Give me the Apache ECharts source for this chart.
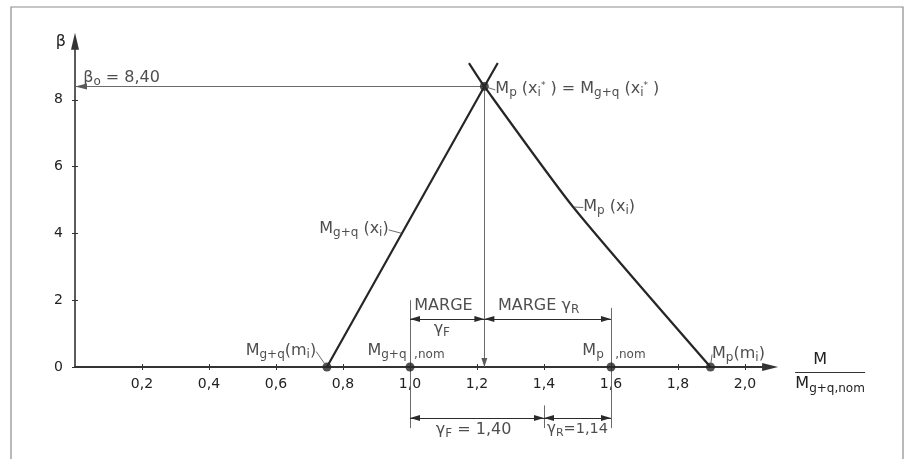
<!DOCTYPE html>
<html><head><meta charset="utf-8">
<script src="https://cdn.jsdelivr.net/npm/echarts@6/dist/echarts.min.js"></script>
<style>html,body{margin:0;padding:0;background:#fff}#c{width:906px;height:459px}</style>
</head><body><div id="c"></div>
<script>
// ---------- data ----------
const xTicks = [0.2, 0.4, 0.6, 0.8, 1.0, 1.2, 1.4, 1.6, 1.8, 2.0];
const yTicks = [0, 2, 4, 6, 8];
// M_g+q(x_i) line (beta vs M/M_g+q,nom)
const gqX = [0.752, 1.222, 1.262];
const gqY = [0, 8.40, 9.10];
// M_p(x_i) curve
const pX = [1.176, 1.222, 1.487, 1.897];
const pY = [9.10, 8.40, 4.79, 0];
// marked points
const pointX = [0.752, 1.0, 1.6, 1.897, 1.222];
const pointY = [0, 0, 0, 0, 8.40];
const pointLabels = [
  '{m|M}{s|g+q}{m|(m}{s|i}{m|)}',
  '{m|M}{s|g+q  ,nom}',
  '{m|M}{s|p   ,nom}',
  '{m|M}{s|p}{m|(m}{s|i}{m|)}',
  '{m|M}{s|p}{m| (x}{s|i}{p|*}{m| ) = M}{s|g+q}{m| (x}{s|i}{p|*}{m| )}'
];
// curve labels (anchor on the curves)
const lineLabelX = [0.976, 1.487];
const lineLabelY = [4.0, 4.79];
const lineLabels = ['{m|M}{s|g+q}{m| (x}{s|i}{m|)}', '{m|M}{s|p}{m| (x}{s|i}{m|)}'];
// key values
const beta0 = 8.40;
const peakX = 1.222;
const nomGQ = 1.0, nomP = 1.6, splitX = 1.4;
const margeY = 1.44, gammaY = -1.53;
// text annotations
const annText = ['{t|MARGE}', '{g|γ}{gs|F}', '{t|MARGE }{g|γ}{gs|R}', '{g|γ}{gs|F}{t| = 1,40}', '{g2|γ}{gs2|R}{t2|=1,14}', '{t|β}{gs|o}{t| = 8,40}'];
const annX = [1.10, 1.095, 1.384, 1.19, 1.50, 0.139];
const annY = [1.80, 1.11, 1.80, -1.92, -1.92, 8.62];

// ---------- styles ----------
const LINE = '#262626', THIN = '#5a5a5a', TXT = '#222';
const FONT = '"DejaVu Sans", sans-serif';
const pointLabelOffsets = [[-46, -15], [-4, -15], [3, -15], [28, -12], [93, 4]];
const lineLabelOffsets = [[-48, -3], [36, 1]];
const R = {
  m: {fontSize: 16, lineHeight: 19, verticalAlign: 'top', color: TXT, fontFamily: FONT},
  s: {fontSize: 12, lineHeight: 13, padding: [6, 0, 0, 0], verticalAlign: 'top', color: TXT, fontFamily: FONT},
  p: {fontSize: 9, lineHeight: 10, verticalAlign: 'top', color: TXT, fontFamily: FONT},
  t: {fontSize: 16, lineHeight: 19, verticalAlign: 'top', color: TXT, fontFamily: FONT},
  g: {fontSize: 16, lineHeight: 19, verticalAlign: 'top', color: TXT, fontFamily: FONT},
  gs: {fontSize: 12, lineHeight: 13, padding: [6, 0, 0, 0], verticalAlign: 'top', color: TXT, fontFamily: FONT},
  t2: {fontSize: 14.5, lineHeight: 19, verticalAlign: 'top', color: TXT, fontFamily: FONT},
  g2: {fontSize: 15, lineHeight: 19, verticalAlign: 'top', color: TXT, fontFamily: FONT},
  gs2: {fontSize: 11, lineHeight: 13, padding: [6, 0, 0, 0], verticalAlign: 'top', color: TXT, fontFamily: FONT}
};
const ARW = 'path://M0,0L0,0Z M0,10L3,20L-3,20Z';
const thin = {color: THIN, width: 0.9, type: 'solid'};
const dim = {color: '#2a2a2a', width: 1, type: 'solid'};
function seg(x1, y1, x2, y2, s1, s2, ls, size) {
  return [{coord: [x1, y1], symbol: s1, symbolSize: size || 1, lineStyle: ls},
          {coord: [x2, y2], symbol: s2, symbolSize: size || 1, lineStyle: ls}];
}
const fmt = v => v.toFixed(1).replace('.', ',');
const AX = '#333';

const chart = echarts.init(document.getElementById('c'));
const option = {
  animation: false,
  backgroundColor: '#ffffff',
  graphic: [{type: 'rect', shape: {x: 11, y: 7, width: 892, height: 470}, style: {fill: 'none', stroke: '#8c8c8c', lineWidth: 1.2}, z: -10, silent: true}],
  grid: [
    {left: 75, right: 135.9, top: 41.35, bottom: 92, containLabel: false, outerBoundsMode: 'none'},
    {left: 75, right: 135.9, top: 41.35, bottom: 8.5, containLabel: false, outerBoundsMode: 'none'}
  ],
  xAxis: [{
    gridIndex: 0, type: 'value', min: 0, max: 2.075, position: 'bottom',
    name: '{n|M}\n{bar| }\n{d|M}{ds|g+q,nom}', nameLocation: 'end', nameGap: 60, nameMoveOverlap: false,
    nameTextStyle: {align: 'center', verticalAlign: 'middle', padding: [6, 0, 0, 0], rich: {
      n: {fontSize: 16, lineHeight: 24, color: TXT, fontFamily: FONT, align: 'center', padding: [0, 20, 0, 0]},
      bar: {width: 70, height: 1.2, lineHeight: 1.2, fontSize: 1, backgroundColor: '#333', align: 'center'},
      d: {fontSize: 16, lineHeight: 19, padding: [3, 0, 0, 0], verticalAlign: 'top', color: TXT, fontFamily: FONT, align: 'center'},
      ds: {fontSize: 12, lineHeight: 13, padding: [10, 0, 0, 0], verticalAlign: 'top', color: TXT, fontFamily: FONT, align: 'center'}
    }},
    axisLine: {show: true, onZero: false, symbol: ['none', 'triangle'], symbolSize: [8, 16], lineStyle: {color: AX, width: 1.8}},
    axisTick: {show: true, length: 3, customValues: xTicks, lineStyle: {color: AX, width: 1}},
    axisLabel: {show: true, customValues: xTicks, formatter: fmt, margin: 10, fontSize: 14, color: TXT, fontFamily: FONT},
    splitLine: {show: false}
  }, {
    gridIndex: 0, type: 'value', min: 0, max: 2.075, position: 'bottom',
    axisLine: {show: false, onZero: false},
    axisTick: {show: true, inside: true, length: 3, customValues: xTicks, lineStyle: {color: AX, width: 1}},
    axisLabel: {show: false}, splitLine: {show: false}
  }, {
    gridIndex: 1, type: 'value', min: 0, max: 2.075, show: false
  }],
  yAxis: [{
    gridIndex: 0, type: 'value', min: 0, max: 9.75, position: 'left',
    name: 'β', nameLocation: 'end', nameGap: 0, nameMoveOverlap: false,
    nameTextStyle: {align: 'right', verticalAlign: 'middle', padding: [0, 9, 0, 0], fontSize: 16, color: TXT, fontFamily: FONT},
    axisLine: {show: true, onZero: false, symbol: ['none', 'triangle'], symbolSize: [8, 17], lineStyle: {color: AX, width: 1.6}},
    axisTick: {show: true, length: 3, customValues: yTicks, lineStyle: {color: AX, width: 1}},
    axisLabel: {show: true, customValues: yTicks, margin: 12, fontSize: 14, color: TXT, fontFamily: FONT},
    splitLine: {show: false}
  }, {
    gridIndex: 0, type: 'value', min: 0, max: 9.75, position: 'left',
    axisLine: {show: false, onZero: false},
    axisTick: {show: true, inside: true, length: 3, customValues: yTicks, lineStyle: {color: AX, width: 1}},
    axisLabel: {show: false}, splitLine: {show: false}
  }, {
    gridIndex: 1, type: 'value', min: -2.5, max: 9.75, show: false
  }],
  series: [
    {type: 'line', name: 'Mgq', data: gqX.map((x, i) => [x, gqY[i]]), symbol: 'none', clip: false,
     lineStyle: {color: LINE, width: 2.2}, z: 3},
    {type: 'line', name: 'Mp', data: pX.map((x, i) => [x, pY[i]]), symbol: 'none', clip: false,
     smooth: 0.2,
     lineStyle: {color: LINE, width: 2.2}, z: 3},
    {type: 'scatter', name: 'points', clip: false, z: 5,
     data: pointX.map((x, i) => ({value: [x, pointY[i]], labelLine: {show: !(i === 1 || i === 2)}})),
     symbolSize: 9, itemStyle: {color: '#262626'},
     label: {show: true, position: 'inside', color: TXT, formatter: p => pointLabels[p.dataIndex], rich: R},
     labelLayout: p => ({dx: pointLabelOffsets[p.dataIndex][0], dy: pointLabelOffsets[p.dataIndex][1]}),
     labelLine: {show: true, lineStyle: {color: '#444', width: 0.8}}
    },
    {type: 'scatter', name: 'curveLabels', clip: false, z: 4,
     data: lineLabelX.map((x, i) => [x, lineLabelY[i]]), symbolSize: 1, itemStyle: {color: 'rgba(0,0,0,0)'},
     label: {show: true, position: 'inside', color: TXT, formatter: p => lineLabels[p.dataIndex], rich: R},
     labelLayout: p => ({dx: lineLabelOffsets[p.dataIndex][0], dy: lineLabelOffsets[p.dataIndex][1]}),
     labelLine: {show: true, lineStyle: {color: '#444', width: 0.8}}
    },
    {type: 'scatter', name: 'annotations', xAxisIndex: 2, yAxisIndex: 2, clip: false, z: 4,
     data: annX.map((x, i) => [x, annY[i]]), symbolSize: 1, itemStyle: {color: 'rgba(0,0,0,0)'},
     label: {show: true, position: 'inside', color: TXT, formatter: p => annText[p.dataIndex], rich: R},
     markLine: {silent: true, animation: false, symbol: ['none', 'none'], label: {show: false}, lineStyle: dim,
       emphasis: {disabled: true},
       data: [
         seg(peakX, beta0, 0, beta0, 'none', ARW, thin, [6, 24]),
         seg(peakX, beta0, peakX, 0, 'none', ARW, thin, [6, 18]),
         seg(nomGQ, 2.0, nomGQ, -1.83, 'none', 'none', thin),
         seg(nomP, 1.77, nomP, -1.83, 'none', 'none', thin),
         seg(splitX, -1.15, splitX, -1.83, 'none', 'none', thin),
         seg(nomGQ, margeY, peakX, margeY, ARW, ARW, dim, [6, 20]),
         seg(peakX, margeY, nomP, margeY, ARW, ARW, dim, [6, 20]),
         seg(nomGQ, gammaY, splitX, gammaY, ARW, ARW, dim, [6, 20]),
         seg(splitX, gammaY, nomP, gammaY, ARW, ARW, dim, [6, 20])
       ]}
    }
  ]
};
chart.setOption(option);
</script></body></html>
